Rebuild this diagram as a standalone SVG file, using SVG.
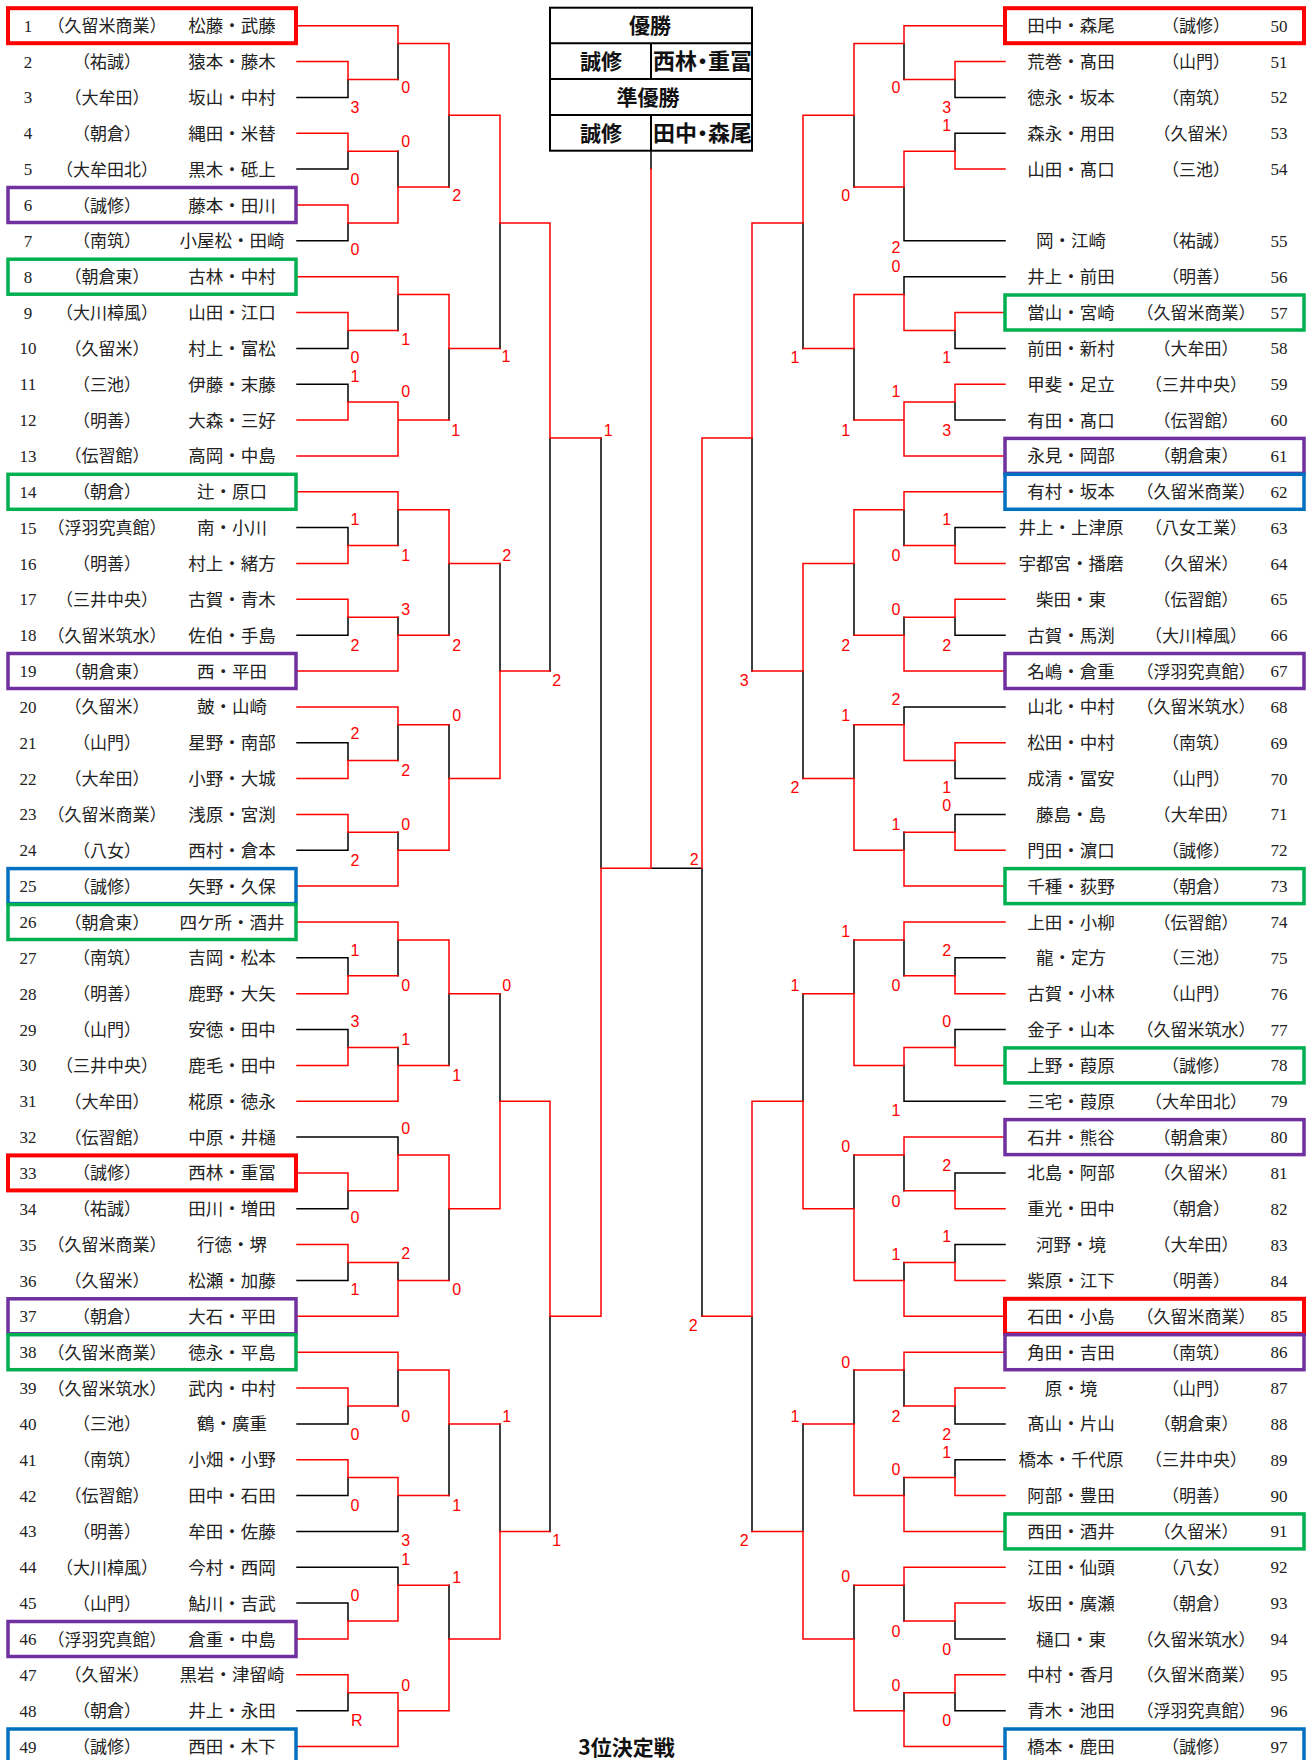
<svg xmlns="http://www.w3.org/2000/svg" width="1311" height="1760" viewBox="0 0 1311 1760">
<style>
.n{font-family:"Liberation Serif","Noto Sans CJK JP",serif;font-size:17px;fill:#222;text-anchor:middle}
.s{font-family:"Noto Sans CJK JP",sans-serif;font-size:17px;fill:#222;text-anchor:middle}
.m{font-family:"Noto Sans CJK JP",sans-serif;font-size:17.5px;fill:#222;text-anchor:middle}
.sc{font-family:"Liberation Sans",sans-serif;font-size:16px;fill:#FF0000;text-anchor:middle}
.h{font-family:"Noto Sans CJK JP",sans-serif;font-size:21px;font-weight:bold;fill:#111}
.hn{font-family:"Noto Sans CJK JP",sans-serif;font-size:22px;font-weight:bold;fill:#111;font-feature-settings:"palt"}
.bx{fill:none;stroke-width:3.5}
.br{stroke:#FF0000;stroke-width:4}
.bp{stroke:#7030A0}
.bg{stroke:#00B050}
.bb{stroke:#0070C0}
.k{fill:none;stroke:#000;stroke-width:1.5;stroke-linecap:square}
.r{fill:none;stroke:#FF0000;stroke-width:1.5;stroke-linecap:square}
</style>
<rect width="1311" height="1760" fill="#fff"/>

<g id="header">
<rect x="550" y="7.7" width="202" height="143" fill="none" stroke="#000" stroke-width="2"/>
<path d="M550 43.3H752M550 79H752M550 115H752M651 43.3V79M651 115V150.7" stroke="#000" stroke-width="2" fill="none"/>
<text class="h" x="650" y="33.2" text-anchor="middle">優勝</text>
<text class="h" x="601" y="69" text-anchor="middle">誠修</text>
<text class="hn" x="653" y="69.3">西林・重冨</text>
<text class="h" x="648" y="105" text-anchor="middle">準優勝</text>
<text class="h" x="601" y="141" text-anchor="middle">誠修</text>
<text class="hn" x="653" y="141.3">田中・森尾</text>
</g>

<g id="connectors">
<path class="k" d="M297 97.4H348M297 169.1H348M297 240.8H348M297 348.4H348M297 384.2H348M297 527.6H348M297 635.2H348M297 742.7H348M297 850.3H348M297 957.8H348M297 1029.5H348M297 1137.1H398M297 1208.8H348M297 1280.5H348M297 1423.9H348M297 1495.6H348M297 1531.4H398M297 1567.3H398M297 1603.1H348M297 1710.7H348
M348 79.5V97.4M398 43.6V79.5M348 151.2V169.1M348 222.9V240.8M398 151.2V187M449 115.3V187M348 330.4V348.4M398 294.6V330.4M348 384.2V402.1M449 348.4V420.1M500 222.9V348.4M348 527.6V545.5M398 509.7V545.5M348 617.2V635.2M398 617.2V635.2M449 563.5V635.2M348 742.7V760.6M398 724.8V760.6M348 832.3V850.3M398 832.3V850.3M449 724.8V778.6M500 563.5V671M550 438V671
M348 957.8V975.7M398 939.9V975.7M348 1029.5V1047.4M398 1047.4V1065.4M449 993.7V1065.4M348 1190.8V1208.8M398 1137.1V1155M348 1262.5V1280.5M398 1262.5V1280.5M449 1208.8V1280.5M500 993.7V1101.2M348 1405.9V1423.9M398 1370.1V1405.9M348 1477.6V1495.6M398 1495.6V1531.4M449 1423.9V1495.6M348 1603.1V1621M398 1567.3V1585.2M348 1692.7V1710.7M449 1585.2V1639M500 1423.9V1531.4M550 1316.3V1531.4M601 438V868.2
M651 150.7V169M651 868.2H702
M1005 97.4H955M1005 133.3H955M1005 240.8H904M1005 276.7H904M1005 348.4H955M1005 420.1H955M1005 527.6H955M1005 635.2H955M1005 706.9H904M1005 778.6H955M1005 814.4H955M1005 957.8H955M1005 1029.5H955M1005 1101.2H904M1005 1172.9H955M1005 1244.6H955M1005 1423.9H955M1005 1459.7H955M1005 1639H955M1005 1710.7H955
M955 79.5V97.4M904 43.6V79.5M955 133.3V151.2M904 187V240.8M854 115.3V187M904 276.7V294.6M955 330.4V348.4M955 402.1V420.1M854 348.4V420.1M803 222.9V348.4M955 527.6V545.5M904 509.7V545.5M955 617.2V635.2M904 617.2V635.2M854 563.5V635.2M955 760.6V778.6M904 706.9V724.8M955 814.4V832.3M904 832.3V850.3M854 724.8V778.6M803 671V778.6M752 438V671
M955 957.8V975.7M904 939.9V975.7M955 1029.5V1047.4M904 1065.4V1101.2M854 939.9V993.7M955 1172.9V1190.8M904 1155V1190.8M955 1244.6V1262.5M904 1262.5V1280.5M854 1155V1208.8M803 993.7V1101.2M955 1405.9V1423.9M904 1370.1V1405.9M955 1459.7V1477.6M904 1477.6V1495.6M854 1370.1V1423.9M955 1621V1639M904 1585.2V1621M955 1692.7V1710.7M904 1692.7V1710.7M854 1585.2V1639M803 1423.9V1531.4M752 1316.3V1531.4M702 868.2V1316.3"/>
<path class="r" d="M297 25.7H398M297 61.6H348M297 133.3H348M297 205H348M297 276.7H398M297 312.5H348M297 420.1H348M297 455.9H398M297 491.8H398M297 563.5H348M297 599.3H348M297 671H398M297 706.9H398M297 778.6H348M297 814.4H348M297 886.1H398M297 922H398M297 993.7H348M297 1065.4H348M297 1101.2H398M297 1172.9H348M297 1244.6H348M297 1316.3H398M297 1352.2H398M297 1388H348M297 1459.7H348M297 1639H348M297 1674.8H348M297 1746.5H398
M348 61.6V79.5H398M398 25.7V43.6H449M348 133.3V151.2H398M348 205V222.9H398M398 187V222.9M398 187H449M449 43.6V115.3H500M348 312.5V330.4H398M398 276.7V294.6H449M348 402.1V420.1M348 402.1H398M398 402.1V455.9M398 420.1H449M449 294.6V348.4H500M500 115.3V222.9H550
M348 545.5V563.5M348 545.5H398M398 491.8V509.7H449M348 599.3V617.2H398M398 635.2V671M398 635.2H449M449 509.7V563.5H500M348 760.6V778.6M348 760.6H398M398 706.9V724.8H449M348 814.4V832.3H398M398 850.3V886.1M398 850.3H449M449 778.6V850.3M449 778.6H500M500 671V778.6M500 671H550M550 222.9V438H601
M348 975.7V993.7M348 975.7H398M398 922V939.9H449M348 1047.4V1065.4M348 1047.4H398M398 1065.4V1101.2M398 1065.4H449M449 939.9V993.7H500M348 1172.9V1190.8H398M398 1155V1190.8M398 1155H449M348 1244.6V1262.5H398M398 1280.5V1316.3M398 1280.5H449M449 1155V1208.8H500M500 1101.2V1208.8M500 1101.2H550
M348 1388V1405.9H398M398 1352.2V1370.1H449M348 1459.7V1477.6H398V1495.6H449M449 1370.1V1423.9H500M348 1621V1639M348 1621H398M398 1585.2V1621M398 1585.2H449M348 1674.8V1692.7H398V1746.5M398 1710.7H449M449 1639V1710.7M449 1639H500M500 1531.4V1639M500 1531.4H550M550 1101.2V1316.3H601M601 868.2V1316.3M601 868.2H651M651 169V868.2
M1005 25.7H904M1005 61.6H955M1005 169.1H955M1005 312.5H955M1005 384.2H955M1005 455.9H904M1005 491.8H904M1005 563.5H955M1005 599.3H955M1005 671H904M1005 742.7H955M1005 850.3H955M1005 886.1H904M1005 922H904M1005 993.7H955M1005 1065.4H955M1005 1137.1H904M1005 1208.8H955M1005 1280.5H955M1005 1316.3H904M1005 1352.2H904M1005 1388H955M1005 1495.6H955M1005 1531.4H904M1005 1567.3H904M1005 1603.1H955M1005 1674.8H955M1005 1746.5H904
M955 61.6V79.5H904M904 25.7V43.6H854M955 151.2V169.1M955 151.2H904M904 151.2V187H854M854 43.6V115.3H803M904 294.6V330.4M904 294.6H854M955 312.5V330.4H904M955 384.2V402.1H904M904 402.1V455.9M904 420.1H854M854 294.6V348.4H803M803 115.3V222.9H752
M955 545.5V563.5M955 545.5H904M904 491.8V509.7H854M955 599.3V617.2H904M904 635.2V671M904 635.2H854M854 509.7V563.5H803M955 742.7V760.6H904M904 724.8V760.6M904 724.8H854M955 832.3V850.3M955 832.3H904M904 850.3V886.1M904 850.3H854M854 778.6V850.3M854 778.6H803M803 563.5V671H752M752 222.9V438H702M702 438V868.2
M955 975.7V993.7M955 975.7H904M904 922V939.9H854M955 1047.4V1065.4M955 1047.4H904V1065.4H854M854 993.7V1065.4M854 993.7H803M955 1190.8V1208.8M955 1190.8H904M904 1137.1V1155H854M955 1262.5V1280.5M955 1262.5H904M904 1280.5V1316.3M904 1280.5H854M854 1208.8V1280.5M854 1208.8H803M803 1101.2V1208.8M803 1101.2H752M752 1101.2V1316.3H702
M955 1388V1405.9H904M904 1352.2V1370.1H854M955 1477.6V1495.6M955 1477.6H904M904 1495.6V1531.4M904 1495.6H854M854 1423.9V1495.6M854 1423.9H803M955 1603.1V1621H904M904 1567.3V1585.2H854M955 1674.8V1692.7H904M904 1710.7V1746.5M904 1710.7H854M854 1639V1710.7M854 1639H803M803 1531.4V1639M803 1531.4H752"/>
</g>

<g id="left-entries">
<g id="p1"><rect class="bx br" x="8" y="8.2" width="288" height="35"/><text class="n" x="28" y="31.7">1</text><text class="s" x="107" y="32.2">（久留米商業）</text><text class="m" x="232" y="32.2">松藤・武藤</text></g>
<g id="p2"><text class="n" x="28" y="67.6">2</text><text class="s" x="107" y="68.1">（祐誠）</text><text class="m" x="232" y="68.1">猿本・藤木</text></g>
<g id="p3"><text class="n" x="28" y="103.4">3</text><text class="s" x="107" y="103.9">（大牟田）</text><text class="m" x="232" y="103.9">坂山・中村</text></g>
<g id="p4"><text class="n" x="28" y="139.3">4</text><text class="s" x="107" y="139.8">（朝倉）</text><text class="m" x="232" y="139.8">縄田・米替</text></g>
<g id="p5"><text class="n" x="28" y="175.1">5</text><text class="s" x="107" y="175.6">（大牟田北）</text><text class="m" x="232" y="175.6">黒木・砥上</text></g>
<g id="p6"><rect class="bx bp" x="8" y="187.5" width="288" height="35"/><text class="n" x="28" y="211">6</text><text class="s" x="107" y="211.5">（誠修）</text><text class="m" x="232" y="211.5">藤本・田川</text></g>
<g id="p7"><text class="n" x="28" y="246.8">7</text><text class="s" x="107" y="247.3">（南筑）</text><text class="m" x="232" y="247.3">小屋松・田崎</text></g>
<g id="p8"><rect class="bx bg" x="8" y="259.2" width="288" height="35"/><text class="n" x="28" y="282.7">8</text><text class="s" x="107" y="283.2">（朝倉東）</text><text class="m" x="232" y="283.2">古林・中村</text></g>
<g id="p9"><text class="n" x="28" y="318.5">9</text><text class="s" x="107" y="319">（大川樟風）</text><text class="m" x="232" y="319">山田・江口</text></g>
<g id="p10"><text class="n" x="28" y="354.4">10</text><text class="s" x="107" y="354.9">（久留米）</text><text class="m" x="232" y="354.9">村上・富松</text></g>
<g id="p11"><text class="n" x="28" y="390.2">11</text><text class="s" x="107" y="390.7">（三池）</text><text class="m" x="232" y="390.7">伊藤・末藤</text></g>
<g id="p12"><text class="n" x="28" y="426.1">12</text><text class="s" x="107" y="426.6">（明善）</text><text class="m" x="232" y="426.6">大森・三好</text></g>
<g id="p13"><text class="n" x="28" y="461.9">13</text><text class="s" x="107" y="462.4">（伝習館）</text><text class="m" x="232" y="462.4">高岡・中島</text></g>
<g id="p14"><rect class="bx bg" x="8" y="474.3" width="288" height="35"/><text class="n" x="28" y="497.8">14</text><text class="s" x="107" y="498.3">（朝倉）</text><text class="m" x="232" y="498.3">辻・原口</text></g>
<g id="p15"><text class="n" x="28" y="533.6">15</text><text class="s" x="107" y="534.1">（浮羽究真館）</text><text class="m" x="232" y="534.1">南・小川</text></g>
<g id="p16"><text class="n" x="28" y="569.5">16</text><text class="s" x="107" y="570">（明善）</text><text class="m" x="232" y="570">村上・緒方</text></g>
<g id="p17"><text class="n" x="28" y="605.3">17</text><text class="s" x="107" y="605.8">（三井中央）</text><text class="m" x="232" y="605.8">古賀・青木</text></g>
<g id="p18"><text class="n" x="28" y="641.2">18</text><text class="s" x="107" y="641.7">（久留米筑水）</text><text class="m" x="232" y="641.7">佐伯・手島</text></g>
<g id="p19"><rect class="bx bp" x="8" y="653.5" width="288" height="35"/><text class="n" x="28" y="677">19</text><text class="s" x="107" y="677.5">（朝倉東）</text><text class="m" x="232" y="677.5">西・平田</text></g>
<g id="p20"><text class="n" x="28" y="712.9">20</text><text class="s" x="107" y="713.4">（久留米）</text><text class="m" x="232" y="713.4">皷・山崎</text></g>
<g id="p21"><text class="n" x="28" y="748.7">21</text><text class="s" x="107" y="749.2">（山門）</text><text class="m" x="232" y="749.2">星野・南部</text></g>
<g id="p22"><text class="n" x="28" y="784.6">22</text><text class="s" x="107" y="785.1">（大牟田）</text><text class="m" x="232" y="785.1">小野・大城</text></g>
<g id="p23"><text class="n" x="28" y="820.4">23</text><text class="s" x="107" y="820.9">（久留米商業）</text><text class="m" x="232" y="820.9">浅原・宮渕</text></g>
<g id="p24"><text class="n" x="28" y="856.3">24</text><text class="s" x="107" y="856.8">（八女）</text><text class="m" x="232" y="856.8">西村・倉本</text></g>
<g id="p25"><rect class="bx bb" x="8" y="868.6" width="288" height="35"/><text class="n" x="28" y="892.1">25</text><text class="s" x="107" y="892.6">（誠修）</text><text class="m" x="232" y="892.6">矢野・久保</text></g>
<g id="p26"><rect class="bx bg" x="8" y="904.5" width="288" height="35"/><text class="n" x="28" y="928">26</text><text class="s" x="107" y="928.5">（朝倉東）</text><text class="m" x="232" y="928.5">四ケ所・酒井</text></g>
<g id="p27"><text class="n" x="28" y="963.8">27</text><text class="s" x="107" y="964.3">（南筑）</text><text class="m" x="232" y="964.3">吉岡・松本</text></g>
<g id="p28"><text class="n" x="28" y="999.7">28</text><text class="s" x="107" y="1000.2">（明善）</text><text class="m" x="232" y="1000.2">鹿野・大矢</text></g>
<g id="p29"><text class="n" x="28" y="1035.5">29</text><text class="s" x="107" y="1036">（山門）</text><text class="m" x="232" y="1036">安徳・田中</text></g>
<g id="p30"><text class="n" x="28" y="1071.4">30</text><text class="s" x="107" y="1071.9">（三井中央）</text><text class="m" x="232" y="1071.9">鹿毛・田中</text></g>
<g id="p31"><text class="n" x="28" y="1107.2">31</text><text class="s" x="107" y="1107.7">（大牟田）</text><text class="m" x="232" y="1107.7">椛原・徳永</text></g>
<g id="p32"><text class="n" x="28" y="1143.1">32</text><text class="s" x="107" y="1143.6">（伝習館）</text><text class="m" x="232" y="1143.6">中原・井樋</text></g>
<g id="p33"><rect class="bx br" x="8" y="1155.4" width="288" height="35"/><text class="n" x="28" y="1178.9">33</text><text class="s" x="107" y="1179.4">（誠修）</text><text class="m" x="232" y="1179.4">西林・重冨</text></g>
<g id="p34"><text class="n" x="28" y="1214.8">34</text><text class="s" x="107" y="1215.3">（祐誠）</text><text class="m" x="232" y="1215.3">田川・増田</text></g>
<g id="p35"><text class="n" x="28" y="1250.6">35</text><text class="s" x="107" y="1251.1">（久留米商業）</text><text class="m" x="232" y="1251.1">行徳・堺</text></g>
<g id="p36"><text class="n" x="28" y="1286.5">36</text><text class="s" x="107" y="1287">（久留米）</text><text class="m" x="232" y="1287">松瀬・加藤</text></g>
<g id="p37"><rect class="bx bp" x="8" y="1298.8" width="288" height="35"/><text class="n" x="28" y="1322.3">37</text><text class="s" x="107" y="1322.8">（朝倉）</text><text class="m" x="232" y="1322.8">大石・平田</text></g>
<g id="p38"><rect class="bx bg" x="8" y="1334.7" width="288" height="35"/><text class="n" x="28" y="1358.2">38</text><text class="s" x="107" y="1358.7">（久留米商業）</text><text class="m" x="232" y="1358.7">徳永・平島</text></g>
<g id="p39"><text class="n" x="28" y="1394">39</text><text class="s" x="107" y="1394.5">（久留米筑水）</text><text class="m" x="232" y="1394.5">武内・中村</text></g>
<g id="p40"><text class="n" x="28" y="1429.9">40</text><text class="s" x="107" y="1430.4">（三池）</text><text class="m" x="232" y="1430.4">鶴・廣重</text></g>
<g id="p41"><text class="n" x="28" y="1465.7">41</text><text class="s" x="107" y="1466.2">（南筑）</text><text class="m" x="232" y="1466.2">小畑・小野</text></g>
<g id="p42"><text class="n" x="28" y="1501.6">42</text><text class="s" x="107" y="1502.1">（伝習館）</text><text class="m" x="232" y="1502.1">田中・石田</text></g>
<g id="p43"><text class="n" x="28" y="1537.4">43</text><text class="s" x="107" y="1537.9">（明善）</text><text class="m" x="232" y="1537.9">牟田・佐藤</text></g>
<g id="p44"><text class="n" x="28" y="1573.3">44</text><text class="s" x="107" y="1573.8">（大川樟風）</text><text class="m" x="232" y="1573.8">今村・西岡</text></g>
<g id="p45"><text class="n" x="28" y="1609.1">45</text><text class="s" x="107" y="1609.6">（山門）</text><text class="m" x="232" y="1609.6">鮎川・吉武</text></g>
<g id="p46"><rect class="bx bp" x="8" y="1621.5" width="288" height="35"/><text class="n" x="28" y="1645">46</text><text class="s" x="107" y="1645.5">（浮羽究真館）</text><text class="m" x="232" y="1645.5">倉重・中島</text></g>
<g id="p47"><text class="n" x="28" y="1680.8">47</text><text class="s" x="107" y="1681.3">（久留米）</text><text class="m" x="232" y="1681.3">黒岩・津留崎</text></g>
<g id="p48"><text class="n" x="28" y="1716.7">48</text><text class="s" x="107" y="1717.2">（朝倉）</text><text class="m" x="232" y="1717.2">井上・永田</text></g>
<g id="p49"><rect class="bx bb" x="8" y="1729" width="288" height="35"/><text class="n" x="28" y="1752.5">49</text><text class="s" x="107" y="1753">（誠修）</text><text class="m" x="232" y="1753">西田・木下</text></g>
</g>

<g id="right-entries">
<g id="p50"><rect class="bx br" x="1005" y="8.2" width="299" height="35"/><text class="m" x="1071" y="32.2">田中・森尾</text><text class="s" x="1196" y="32.2">（誠修）</text><text class="n" x="1279" y="31.7">50</text></g>
<g id="p51"><text class="m" x="1071" y="68.1">荒巻・髙田</text><text class="s" x="1196" y="68.1">（山門）</text><text class="n" x="1279" y="67.6">51</text></g>
<g id="p52"><text class="m" x="1071" y="103.9">徳永・坂本</text><text class="s" x="1196" y="103.9">（南筑）</text><text class="n" x="1279" y="103.4">52</text></g>
<g id="p53"><text class="m" x="1071" y="139.8">森永・用田</text><text class="s" x="1196" y="139.8">（久留米）</text><text class="n" x="1279" y="139.3">53</text></g>
<g id="p54"><text class="m" x="1071" y="175.6">山田・髙口</text><text class="s" x="1196" y="175.6">（三池）</text><text class="n" x="1279" y="175.1">54</text></g>
<g id="p55"><text class="m" x="1071" y="247.3">岡・江崎</text><text class="s" x="1196" y="247.3">（祐誠）</text><text class="n" x="1279" y="246.8">55</text></g>
<g id="p56"><text class="m" x="1071" y="283.2">井上・前田</text><text class="s" x="1196" y="283.2">（明善）</text><text class="n" x="1279" y="282.7">56</text></g>
<g id="p57"><rect class="bx bg" x="1005" y="295" width="299" height="35"/><text class="m" x="1071" y="319">當山・宮崎</text><text class="s" x="1196" y="319">（久留米商業）</text><text class="n" x="1279" y="318.5">57</text></g>
<g id="p58"><text class="m" x="1071" y="354.9">前田・新村</text><text class="s" x="1196" y="354.9">（大牟田）</text><text class="n" x="1279" y="354.4">58</text></g>
<g id="p59"><text class="m" x="1071" y="390.7">甲斐・足立</text><text class="s" x="1196" y="390.7">（三井中央）</text><text class="n" x="1279" y="390.2">59</text></g>
<g id="p60"><text class="m" x="1071" y="426.6">有田・髙口</text><text class="s" x="1196" y="426.6">（伝習館）</text><text class="n" x="1279" y="426.1">60</text></g>
<g id="p61"><rect class="bx bp" x="1005" y="438.4" width="299" height="35"/><text class="m" x="1071" y="462.4">永見・岡部</text><text class="s" x="1196" y="462.4">（朝倉東）</text><text class="n" x="1279" y="461.9">61</text></g>
<g id="p62"><rect class="bx bb" x="1005" y="474.3" width="299" height="35"/><text class="m" x="1071" y="498.3">有村・坂本</text><text class="s" x="1196" y="498.3">（久留米商業）</text><text class="n" x="1279" y="497.8">62</text></g>
<g id="p63"><text class="m" x="1071" y="534.1">井上・上津原</text><text class="s" x="1196" y="534.1">（八女工業）</text><text class="n" x="1279" y="533.6">63</text></g>
<g id="p64"><text class="m" x="1071" y="570">宇都宮・播磨</text><text class="s" x="1196" y="570">（久留米）</text><text class="n" x="1279" y="569.5">64</text></g>
<g id="p65"><text class="m" x="1071" y="605.8">柴田・東</text><text class="s" x="1196" y="605.8">（伝習館）</text><text class="n" x="1279" y="605.3">65</text></g>
<g id="p66"><text class="m" x="1071" y="641.7">古賀・馬渕</text><text class="s" x="1196" y="641.7">（大川樟風）</text><text class="n" x="1279" y="641.2">66</text></g>
<g id="p67"><rect class="bx bp" x="1005" y="653.5" width="299" height="35"/><text class="m" x="1071" y="677.5">名嶋・倉重</text><text class="s" x="1196" y="677.5">（浮羽究真館）</text><text class="n" x="1279" y="677">67</text></g>
<g id="p68"><text class="m" x="1071" y="713.4">山北・中村</text><text class="s" x="1196" y="713.4">（久留米筑水）</text><text class="n" x="1279" y="712.9">68</text></g>
<g id="p69"><text class="m" x="1071" y="749.2">松田・中村</text><text class="s" x="1196" y="749.2">（南筑）</text><text class="n" x="1279" y="748.7">69</text></g>
<g id="p70"><text class="m" x="1071" y="785.1">成清・冨安</text><text class="s" x="1196" y="785.1">（山門）</text><text class="n" x="1279" y="784.6">70</text></g>
<g id="p71"><text class="m" x="1071" y="820.9">藤島・島</text><text class="s" x="1196" y="820.9">（大牟田）</text><text class="n" x="1279" y="820.4">71</text></g>
<g id="p72"><text class="m" x="1071" y="856.8">門田・濵口</text><text class="s" x="1196" y="856.8">（誠修）</text><text class="n" x="1279" y="856.3">72</text></g>
<g id="p73"><rect class="bx bg" x="1005" y="868.6" width="299" height="35"/><text class="m" x="1071" y="892.6">千種・荻野</text><text class="s" x="1196" y="892.6">（朝倉）</text><text class="n" x="1279" y="892.1">73</text></g>
<g id="p74"><text class="m" x="1071" y="928.5">上田・小柳</text><text class="s" x="1196" y="928.5">（伝習館）</text><text class="n" x="1279" y="928">74</text></g>
<g id="p75"><text class="m" x="1071" y="964.3">龍・定方</text><text class="s" x="1196" y="964.3">（三池）</text><text class="n" x="1279" y="963.8">75</text></g>
<g id="p76"><text class="m" x="1071" y="1000.2">古賀・小林</text><text class="s" x="1196" y="1000.2">（山門）</text><text class="n" x="1279" y="999.7">76</text></g>
<g id="p77"><text class="m" x="1071" y="1036">金子・山本</text><text class="s" x="1196" y="1036">（久留米筑水）</text><text class="n" x="1279" y="1035.5">77</text></g>
<g id="p78"><rect class="bx bg" x="1005" y="1047.9" width="299" height="35"/><text class="m" x="1071" y="1071.9">上野・葭原</text><text class="s" x="1196" y="1071.9">（誠修）</text><text class="n" x="1279" y="1071.4">78</text></g>
<g id="p79"><text class="m" x="1071" y="1107.7">三宅・葭原</text><text class="s" x="1196" y="1107.7">（大牟田北）</text><text class="n" x="1279" y="1107.2">79</text></g>
<g id="p80"><rect class="bx bp" x="1005" y="1119.6" width="299" height="35"/><text class="m" x="1071" y="1143.6">石井・熊谷</text><text class="s" x="1196" y="1143.6">（朝倉東）</text><text class="n" x="1279" y="1143.1">80</text></g>
<g id="p81"><text class="m" x="1071" y="1179.4">北島・阿部</text><text class="s" x="1196" y="1179.4">（久留米）</text><text class="n" x="1279" y="1178.9">81</text></g>
<g id="p82"><text class="m" x="1071" y="1215.3">重光・田中</text><text class="s" x="1196" y="1215.3">（朝倉）</text><text class="n" x="1279" y="1214.8">82</text></g>
<g id="p83"><text class="m" x="1071" y="1251.1">河野・境</text><text class="s" x="1196" y="1251.1">（大牟田）</text><text class="n" x="1279" y="1250.6">83</text></g>
<g id="p84"><text class="m" x="1071" y="1287">紫原・江下</text><text class="s" x="1196" y="1287">（明善）</text><text class="n" x="1279" y="1286.5">84</text></g>
<g id="p85"><rect class="bx br" x="1005" y="1298.8" width="299" height="35"/><text class="m" x="1071" y="1322.8">石田・小島</text><text class="s" x="1196" y="1322.8">（久留米商業）</text><text class="n" x="1279" y="1322.3">85</text></g>
<g id="p86"><rect class="bx bp" x="1005" y="1334.7" width="299" height="35"/><text class="m" x="1071" y="1358.7">角田・吉田</text><text class="s" x="1196" y="1358.7">（南筑）</text><text class="n" x="1279" y="1358.2">86</text></g>
<g id="p87"><text class="m" x="1071" y="1394.5">原・境</text><text class="s" x="1196" y="1394.5">（山門）</text><text class="n" x="1279" y="1394">87</text></g>
<g id="p88"><text class="m" x="1071" y="1430.4">髙山・片山</text><text class="s" x="1196" y="1430.4">（朝倉東）</text><text class="n" x="1279" y="1429.9">88</text></g>
<g id="p89"><text class="m" x="1071" y="1466.2">橋本・千代原</text><text class="s" x="1196" y="1466.2">（三井中央）</text><text class="n" x="1279" y="1465.7">89</text></g>
<g id="p90"><text class="m" x="1071" y="1502.1">阿部・豊田</text><text class="s" x="1196" y="1502.1">（明善）</text><text class="n" x="1279" y="1501.6">90</text></g>
<g id="p91"><rect class="bx bg" x="1005" y="1513.9" width="299" height="35"/><text class="m" x="1071" y="1537.9">西田・酒井</text><text class="s" x="1196" y="1537.9">（久留米）</text><text class="n" x="1279" y="1537.4">91</text></g>
<g id="p92"><text class="m" x="1071" y="1573.8">江田・仙頭</text><text class="s" x="1196" y="1573.8">（八女）</text><text class="n" x="1279" y="1573.3">92</text></g>
<g id="p93"><text class="m" x="1071" y="1609.6">坂田・廣瀬</text><text class="s" x="1196" y="1609.6">（朝倉）</text><text class="n" x="1279" y="1609.1">93</text></g>
<g id="p94"><text class="m" x="1071" y="1645.5">樋口・東</text><text class="s" x="1196" y="1645.5">（久留米筑水）</text><text class="n" x="1279" y="1645">94</text></g>
<g id="p95"><text class="m" x="1071" y="1681.3">中村・香月</text><text class="s" x="1196" y="1681.3">（久留米商業）</text><text class="n" x="1279" y="1680.8">95</text></g>
<g id="p96"><text class="m" x="1071" y="1717.2">青木・池田</text><text class="s" x="1196" y="1717.2">（浮羽究真館）</text><text class="n" x="1279" y="1716.7">96</text></g>
<g id="p97"><rect class="bx bb" x="1005" y="1729" width="299" height="35"/><text class="m" x="1071" y="1753">橋本・鹿田</text><text class="s" x="1196" y="1753">（誠修）</text><text class="n" x="1279" y="1752.5">97</text></g>
</g>

<g id="scores">
<text class="sc" x="405.7" y="93.4">0</text><text class="sc" x="355" y="113">3</text><text class="sc" x="405.7" y="147.4">0</text><text class="sc" x="355" y="184.7">0</text><text class="sc" x="456.7" y="200.7">2</text><text class="sc" x="355" y="255.4">0</text><text class="sc" x="405.7" y="344.7">1</text><text class="sc" x="355" y="363.4">0</text><text class="sc" x="355" y="381.7">1</text><text class="sc" x="405.7" y="397.4">0</text><text class="sc" x="506" y="362.4">1</text><text class="sc" x="455.7" y="435.7">1</text><text class="sc" x="608.3" y="435.7">1</text>
<text class="sc" x="355" y="524.7">1</text><text class="sc" x="405.7" y="560.7">1</text><text class="sc" x="506.7" y="560.7">2</text><text class="sc" x="405.7" y="614.7">3</text><text class="sc" x="355" y="650.7">2</text><text class="sc" x="456.7" y="650.7">2</text><text class="sc" x="556.7" y="686.4">2</text><text class="sc" x="456.7" y="721.4">0</text><text class="sc" x="355" y="739">2</text><text class="sc" x="405.7" y="775.7">2</text><text class="sc" x="405.7" y="829.7">0</text><text class="sc" x="355" y="865.7">2</text>
<text class="sc" x="355" y="955.7">1</text><text class="sc" x="405.7" y="990.7">0</text><text class="sc" x="506.7" y="990.7">0</text><text class="sc" x="355" y="1027">3</text><text class="sc" x="405.7" y="1044.7">1</text><text class="sc" x="456.7" y="1080.7">1</text><text class="sc" x="405.7" y="1134">0</text><text class="sc" x="355" y="1223.4">0</text><text class="sc" x="405.7" y="1259">2</text><text class="sc" x="355" y="1295">1</text><text class="sc" x="456.7" y="1295">0</text>
<text class="sc" x="506.7" y="1421.7">1</text><text class="sc" x="405.7" y="1421.7">0</text><text class="sc" x="355" y="1439.7">0</text><text class="sc" x="456.7" y="1510.7">1</text><text class="sc" x="355" y="1510.7">0</text><text class="sc" x="405.7" y="1546.4">3</text><text class="sc" x="556.7" y="1546.4">1</text><text class="sc" x="405.7" y="1564.7">1</text><text class="sc" x="456.7" y="1582.7">1</text><text class="sc" x="355" y="1600.7">0</text><text class="sc" x="405.7" y="1690.7">0</text><text class="sc" x="356.7" y="1725.7">R</text>
<text class="sc" x="896" y="93.4">0</text><text class="sc" x="946.7" y="113">3</text><text class="sc" x="946.7" y="130.7">1</text><text class="sc" x="845.7" y="200.7">0</text><text class="sc" x="896" y="253">2</text><text class="sc" x="896" y="272.4">0</text><text class="sc" x="795" y="363.4">1</text><text class="sc" x="946.7" y="363.4">1</text><text class="sc" x="896" y="397.4">1</text><text class="sc" x="845.7" y="435.7">1</text><text class="sc" x="946.7" y="435.7">3</text>
<text class="sc" x="946.7" y="524.7">1</text><text class="sc" x="896" y="560.7">0</text><text class="sc" x="896" y="614.7">0</text><text class="sc" x="845.7" y="650.7">2</text><text class="sc" x="946.7" y="650.7">2</text><text class="sc" x="744.3" y="686.4">3</text><text class="sc" x="896" y="704.7">2</text><text class="sc" x="845.7" y="721.4">1</text><text class="sc" x="795" y="793.4">2</text><text class="sc" x="946.7" y="793.4">1</text><text class="sc" x="946.7" y="811.4">0</text><text class="sc" x="896" y="829.7">1</text><text class="sc" x="694.3" y="865">2</text>
<text class="sc" x="845.7" y="937.4">1</text><text class="sc" x="946.7" y="955.7">2</text><text class="sc" x="795" y="990.7">1</text><text class="sc" x="896" y="990.7">0</text><text class="sc" x="946.7" y="1027">0</text><text class="sc" x="896" y="1116.4">1</text><text class="sc" x="845.7" y="1152.4">0</text><text class="sc" x="946.7" y="1170.7">2</text><text class="sc" x="896" y="1206.7">0</text><text class="sc" x="946.7" y="1241.7">1</text><text class="sc" x="896" y="1259.7">1</text><text class="sc" x="693.3" y="1330.7">2</text>
<text class="sc" x="845.7" y="1367.7">0</text><text class="sc" x="795" y="1422.4">1</text><text class="sc" x="896" y="1421.7">2</text><text class="sc" x="946.7" y="1439.7">2</text><text class="sc" x="946.7" y="1457.7">1</text><text class="sc" x="896" y="1474.7">0</text><text class="sc" x="744.3" y="1546.4">2</text><text class="sc" x="845.7" y="1582.4">0</text><text class="sc" x="896" y="1636.7">0</text><text class="sc" x="946.7" y="1654.7">0</text><text class="sc" x="896" y="1690.7">0</text><text class="sc" x="946.7" y="1725.7">0</text>
</g>

<g id="third-place">
<text class="h" x="626.5" y="1754.5" text-anchor="middle" font-size="22">3位決定戦</text>
</g>
</svg>
